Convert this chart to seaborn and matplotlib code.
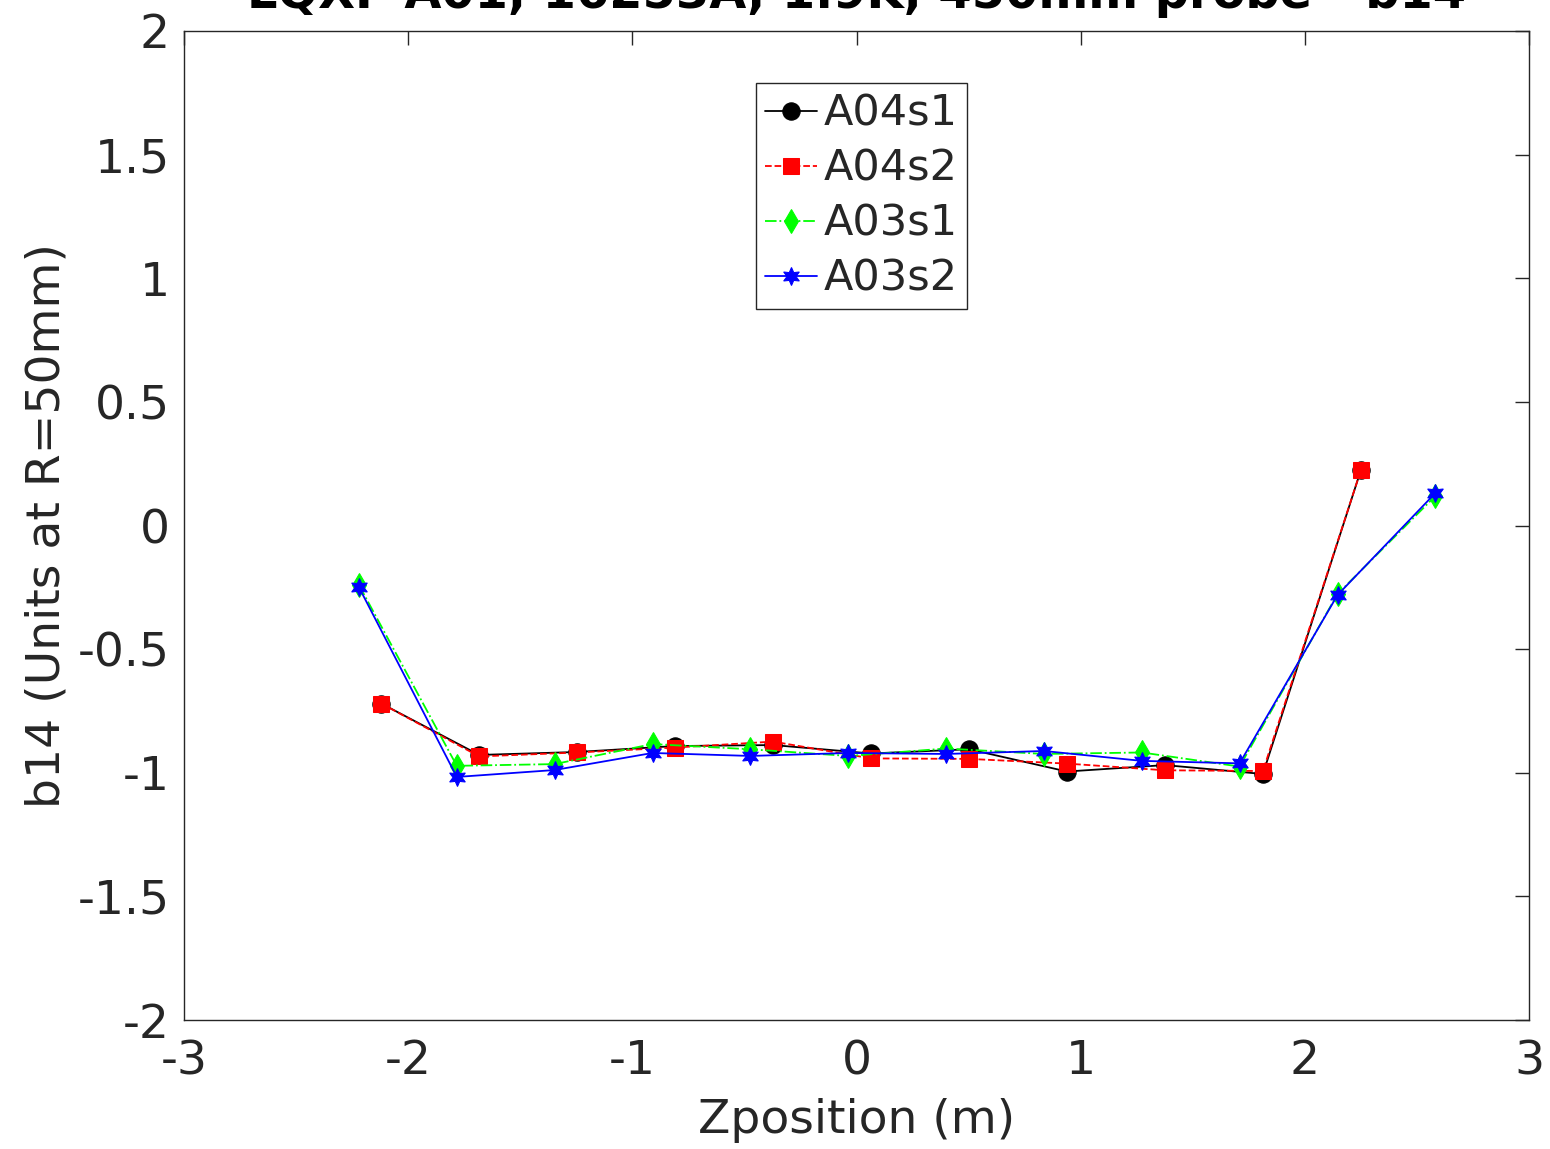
import matplotlib
matplotlib.use("Agg")
import matplotlib.pyplot as plt
import seaborn as sns
import pandas as pd

# Data
z_a04 = [-2.12, -1.683, -1.246, -0.809, -0.372, 0.065, 0.502, 0.939, 1.376, 1.813, 2.25]
b14_a04s1 = [-0.72, -0.928, -0.916, -0.892, -0.888, -0.922, -0.905, -0.995, -0.969, -1.005, 0.224]
b14_a04s2 = [-0.72, -0.934, -0.918, -0.898, -0.874, -0.942, -0.944, -0.963, -0.990, -0.993, 0.224]

z_a03 = [-2.22, -1.783, -1.347, -0.91, -0.474, -0.037, 0.40, 0.836, 1.273, 1.709, 2.146, 2.582]
b14_a03s1 = [-0.24, -0.972, -0.965, -0.884, -0.905, -0.932, -0.902, -0.924, -0.918, -0.975, -0.277, 0.119]
b14_a03s2 = [-0.249, -1.017, -0.989, -0.92, -0.932, -0.92, -0.924, -0.912, -0.952, -0.962, -0.281, 0.131]

labels = ["A04s1", "A04s2", "A03s1", "A03s2"]
title_text = "LQXF A01, 16253A, 1.9K, 450mm probe - b14"

sns.set_theme(style="white")
plt.rcParams['font.family'] = ['DejaVu Sans']
txt = "#262626"

fig = plt.figure(figsize=(15.5, 11.49), dpi=100)
ax = fig.add_axes([184/1550, 1-1020/1149, (1529-184)/1550, (1020-31)/1149])

series = [
    (z_a04, b14_a04s1, labels[0], "black", "o", "-", 12.5),
    (z_a04, b14_a04s2, labels[1], "red", "s", "--", 11),
    (z_a03, b14_a03s1, labels[2], "#00ff00", "d", "-.", 12.5),
    (z_a03, b14_a03s2, labels[3], "blue", (6, 1, 0), "-", 13),
]
for x, y, lab, col, mk, ls, ms in series:
    df = pd.DataFrame({"z": x, "b": y})
    sns.lineplot(data=df, x="z", y="b", ax=ax, color=col, marker=mk, linestyle=ls,
                 markersize=ms, markeredgecolor=col, markerfacecolor=col,
                 linewidth=1.3, sort=False, label=lab)

ax.set_xlim(-3, 3)
ax.set_ylim(-2, 2)
ax.set_xticks([-3, -2, -1, 0, 1, 2, 3])
ax.set_xticklabels(["-3", "-2", "-1", "0", "1", "2", "3"])
ax.set_yticks([-2, -1.5, -1, -0.5, 0, 0.5, 1, 1.5, 2])
ax.set_yticklabels(["-2", "-1.5", "-1", "-0.5", "0", "0.5", "1", "1.5", "2"])
ax.tick_params(direction="in", length=10, width=1, top=True, right=True,
               labelsize=34, colors=txt, pad=10)
ax.tick_params(axis="x", pad=14)
for s in ax.spines.values():
    s.set_color(txt)
    s.set_linewidth(1.0)
ax.set_xlabel("Zposition (m)", fontsize=34, color=txt, labelpad=10)
ax.set_ylabel("b14 (Units at R=50mm)", fontsize=34, color=txt, labelpad=6)

leg = ax.legend(loc="upper left", bbox_to_anchor=(0.425, 0.947), fontsize=31,
                frameon=True, fancybox=False, edgecolor=txt, framealpha=1,
                handlelength=1.2, handletextpad=0.15, borderpad=0.22,
                labelspacing=0.3, borderaxespad=0)
leg.get_frame().set_linewidth(1.0)

fig.text((184 + 1529) / 2 / 1550, 1 - 8/1149, title_text, ha="center", va="baseline",
         fontsize=34.5, fontweight="bold", color="black")

fig.savefig("out.png", dpi=100)
